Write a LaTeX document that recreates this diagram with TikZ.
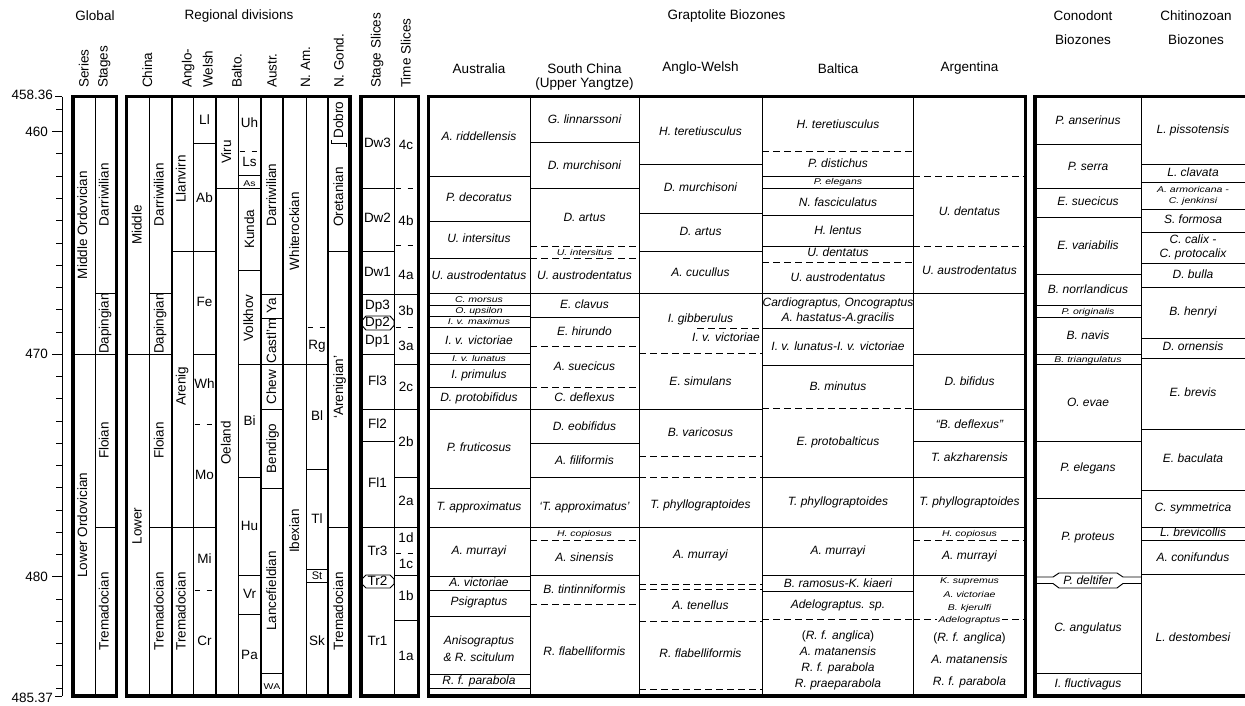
\documentclass[tikz,border=0pt]{standalone}
\usepackage{fontspec}
\setmainfont{Liberation Sans}
\usepackage{graphicx}
\usetikzlibrary{calc}

\tikzset{
  thinline/.style={line width=0.95pt},
  dashline/.style={line width=0.95pt,dash pattern=on 6.5pt off 4.5pt},
  sdash/.style={line width=0.95pt,dash pattern=on 5.5pt off 6.5pt,dash phase=10.5pt},
  grpline/.style={line width=2pt},
  boxline/.style={line width=3.3pt},
  head/.style={font=\fontsize{13.5}{16}\selectfont,inner sep=0pt},
  vhead/.style={head,rotate=90,anchor=west,text height=9.8pt,text depth=2.8pt},
  vname/.style={font=\fontsize{13.5}{16}\selectfont,rotate=90,inner sep=0pt,text height=9.8pt,text depth=2.8pt},
  uname/.style={font=\fontsize{13.5}{16}\selectfont,inner sep=0pt,text height=9.8pt,text depth=2.8pt},
  zone/.style={font=\fontsize{12}{14}\selectfont\itshape,inner sep=0pt,text height=8.6pt,text depth=2.4pt},
}
\newcommand{\smtxt}[1]{\scalebox{1}[0.8]{\fontsize{10.5}{12}\selectfont #1}}

\begin{document}
\begin{tikzpicture}[x=1pt,y=-1pt]
  \useasboundingbox (0,0) rectangle (1245,705);
  \fill[white] (0,0) rectangle (1245,705);

  % 見出し
  \node[head] (hglob) at (95,16) {Global};
  \node[head] (hreg) at (239,16) {Regional divisions};
  \node[head] (hgrap) at (726.5,16) {Graptolite Biozones};
  \node[head] (hcono) at (1083,16) {Conodont};
  \node[head] (hcono2) at (1083,39.5) {Biozones};
  \node[head] (hchit) at (1196,16) {Chitinozoan};
  \node[head] (hchit2) at (1196,39.5) {Biozones};
  \foreach \x/\t [count=\i] in {85/Series,104/Stages,148.5/China,188/Anglo-,209/Welsh,238/Balto.,273/Austr.,306.5/N. Am.,340/N. Gond.,377/Stage Slices,407/Time Slices}
    \node[vhead] (v\i) at (\x,88) {\t};
  \foreach \x/\y/\t [count=\i] in {479/68.5/Australia,584.5/68.5/South China,584.5/84.5/(Upper Yangtze),700.5/68.5/Anglo-Welsh,838/68.5/Baltica,969.5/68.5/Argentina}
    \node[head] (g\i) at (\x,\y) {\t};

  % 時間軸
  \draw[thinline] (62,96.5) -- (62,696);
  \foreach \t in {459,...,485}
    \draw[thinline] (56,{131.7+22.26*(\t-460)}) -- (62,{131.7+22.26*(\t-460)});
  \foreach \t in {460,470,480} {
    \draw[thinline] (52,{131.7+22.26*(\t-460)}) -- (62,{131.7+22.26*(\t-460)});
    \node[head,anchor=east] (t\t) at (48,{131.7+22.26*(\t-460)}) {\t};
  }
  \draw[thinline] (55,96.5) -- (62,96.5);
  \draw[thinline] (55,696) -- (62,696);
  \node[head,anchor=east] (ttop) at (53,95) {458.36};
  \node[head,anchor=east] (tbot) at (53,698) {485.37};

  % 全球区分
  \draw[thinline] (72,354) -- (117,354);
  \foreach \y in {293,527} \draw[thinline] (95,\y) -- (117,\y);
  \node[vname] (se1) at (83.5,225) {Middle Ordovician};
  \node[vname] (se2) at (83.5,525) {Lower Ordovician};
  \foreach \y/\t [count=\i] in {194.5/Darriwilian,323.5/Dapingian,440.5/Floian,611.5/Tremadocian}
    \node[vname] (st\i) at (105,\y) {\t};

  % 中国
  \draw[thinline] (126,354) -- (171,354);
  \foreach \y in {293,527} \draw[thinline] (149,\y) -- (171,\y);
  \node[vname] (cn1) at (138,225) {Middle};
  \node[vname] (cn2) at (138,526) {Lower};
  \foreach \y/\t [count=\i] in {194.5/Darriwilian,323.5/Dapingian,440.5/Floian,611.5/Tremadocian}
    \node[vname] (cs\i) at (160,\y) {\t};

  % 英国
  \foreach \y in {251,527} \draw[thinline] (171,\y) -- (216,\y);
  \foreach \y in {143,354} \draw[thinline] (193,\y) -- (216,\y);
  \foreach \y in {424,590} \draw[sdash] (193,\y) -- (216,\y);
  \foreach \y/\t [count=\i] in {179/Llanvirn,386/Arenig,611.5/Tremadocian}
    \node[vname] (aw\i) at (182,\y) {\t};
  \foreach \y/\t [count=\i] in {121/Ll,199/Ab,303/Fe,385/Wh,476/Mo,560/Mi,642/Cr}
    \node[uname] (aws\i) at (204.5,\y) {\t};

  % バルト
  \draw[thinline] (216,188) -- (261,188);
  \foreach \y in {175,270,364,477,575,614} \draw[thinline] (238,\y) -- (261,\y);
  \draw[sdash] (238,151) -- (261,151);
  \node[vname] (bt1) at (227.5,152) {Viru};
  \node[vname] (bt2) at (227,443) {Oeland};
  \node[vname] (bt3) at (250.5,229) {Kunda};
  \node[vname] (bt4) at (249.5,318) {Volkhov};
  \foreach \y/\t [count=\i] in {124/Uh,163/Ls,422/Bi,527/Hu,595/Vr,656/Pa}
    \node[uname] (bts\i) at (249.5,\y) {\t};
  \node[uname] (bts7) at (249.5,182.5) {\smtxt{As}};

  % 豪州
  \foreach \y in {294,318,364,409,488,673} \draw[thinline] (261,\y) -- (283,\y);
  \foreach \y/\t [count=\i] in {195/Darriwilian,306/Ya,341/Castl'm,387/Chew,448.5/Bendigo,591/Lancefieldian}
    \node[vname] (at\i) at (272.5,\y) {\t};
  \node[uname] (at7) at (272,686) {\smtxt{WA}};

  % 北米
  \draw[thinline] (283,364) -- (328,364);
  \foreach \y in {469,569,582} \draw[thinline] (306,\y) -- (328,\y);
  \draw[sdash] (306,327) -- (328,327);
  \node[vname] (na1) at (295.5,231) {Whiterockian};
  \node[vname] (na2) at (295.5,531) {Ibexian};
  \foreach \y/\t [count=\i] in {346/Rg,417/Bl,520/Tl,642/Sk}
    \node[uname] (nas\i) at (317,\y) {\t};
  \node[uname,font=\fontsize{11}{13}\selectfont] (nas5) at (317,575.5) {St};

  % 北ゴンドワナ
  \foreach \y in {251,527} \draw[thinline] (328,\y) -- (351,\y);
  \draw[thinline] (331,140) -- (331,143) -- (346,143) -- (346,147);
  \foreach \y/\t [count=\i] in {120/Dobro,197/Oretanian,387/‘Arenigian’,611.5/Tremadocian}
    \node[vname] (ng\i) at (339.5,\y) {\t};

  % ステージ・タイムスライス
  \foreach \y in {188,251,354,441} \draw[thinline] (361,\y) -- (394,\y);
  \foreach \y in {294,409,527} \draw[thinline] (361,\y) -- (418,\y);
  \foreach \y in {364,477,575,620} \draw[thinline] (394,\y) -- (418,\y);
  \foreach \y in {188,245,327,553} \draw[sdash] (394,\y) -- (418,\y);
  \foreach \y/\t [count=\i] in {144/Dw3,219/Dw2,273/Dw1,306/Dp3,341/Dp1,382/Fl3,425/Fl2,484/Fl1,552/Tr3,642/Tr1}
    \node[uname] (ss\i) at (377.5,\y) {\t};
  \foreach \y/\t [count=\i] in {146/4c,222/4b,276/4a,312/3b,347/3a,388/2c,443/2b,502/2a,539/1d,565/1c,597/1b,657/1a}
    \node[uname] (ts\i) at (406,\y) {\t};
  \draw[thinline,fill=white] (362,320.5) -- (366,316) -- (390,316) -- (394,320.5) -- (394,325.5) -- (390,330) -- (366,330) -- (362,325.5) -- cycle;
  \node[uname] (dp2) at (377.5,323) {Dp2};
  \draw[thinline,fill=white] (362,579) -- (366,575) -- (390,575) -- (394,579) -- (394,584) -- (390,588) -- (366,588) -- (362,584) -- cycle;
  \node[uname] (tr2) at (377.5,581.5) {Tr2};

  % 筆石帯：オーストラリア
  \foreach \y in {176,221,258,293,305,316,327,353,364,387,409,488,527,576,590,616,674,688}
    \draw[thinline] (428,\y) -- (530,\y);
  \foreach \y/\t [count=\i] in {137/A. riddellensis,198/P. decoratus,239/U. intersitus,276.5/U. austrodentatus,299.5/\smtxt{C. morsus},310.5/\smtxt{O. upsilon},321.5/\smtxt{I. v. maximus},341/I. v. victoriae,358.5/\smtxt{I. v. lunatus},375.5/I. primulus,398/D. protobifidus,448/P. fruticosus,507.5/T. approximatus,551/A. murrayi,583/A. victoriae,602.5/Psigraptus,641/Anisograptus,658/\& R. scitulum,681/R. f. parabola}
    \node[zone] (gau\i) at (479,\y) {\t};

  % 南中国
  \foreach \y in {142,188,293,317,409,443,477,527,575} \draw[thinline] (530,\y) -- (639,\y);
  \foreach \y in {246,258,346,387,540,604} \draw[dashline] (530,\y) -- (639,\y);
  \foreach \y/\t [count=\i] in {120/G. linnarssoni,166/D. murchisoni,218/D. artus,252.5/\smtxt{U. intersitus},276.5/U. austrodentatus,305/E. clavus,332/E. hirundo,367/A. suecicus,398.5/C. deflexus,427/D. eobifidus,461/A. filiformis,507.5/‘T. approximatus’,533/\smtxt{H. copiosus},558/A. sinensis,590/B. tintinniformis,652/R. flabelliformis}
    \node[zone] (gsc\i) at (584.5,\y) {\t};

  % 英国
  \foreach \y in {164,213,251,293,409,527} \draw[thinline] (639,\y) -- (762,\y);
  \foreach \y in {353,456,477,584,589,621,689} \draw[dashline] (639,\y) -- (762,\y);
  \draw[dashline] (697,328) -- (762,328);
  \foreach \y/\t [count=\i] in {132/H. teretiusculus,188.5/D. murchisoni,232/D. artus,273/A. cucullus,319/I. gibberulus,382/E. simulans,433/B. varicosus,505/T. phyllograptoides,555/A. murrayi,606/A. tenellus,654/R. flabelliformis}
    \node[zone] (gaw\i) at (700.5,\y) {\t};
  \node[zone] (gaw12) at (726,338) {I. v. victoriae};

  % バルティカ
  \foreach \y in {176,188,215,246,293,328,365,477,527,575,591} \draw[thinline] (762,\y) -- (913,\y);
  \foreach \y in {151,262,408,619} \draw[dashline] (762,\y) -- (913,\y);
  \foreach \y/\t [count=\i] in {125/H. teretiusculus,164/P. distichus,181/\smtxt{P. elegans},203/N. fasciculatus,231/H. lentus,253.5/U. dentatus,278/U. austrodentatus,303/{Cardiograptus, Oncograptus},318/A. hastatus-A.gracilis,347.5/I. v. lunatus-I. v. victoriae,387/B. minutus,442/E. protobalticus,502/T. phyllograptoides,551/A. murrayi,584/B. ramosus-K. kiaeri,605/Adelograptus. sp.,636/\textup{(}R. f. anglica\textup{)},652/A. matanensis,668/R. f. parabola,684.5/R. praeparabola}
    \node[zone] (gba\i) at (838,\y) {\t};

  % アルゼンチン
  \foreach \y in {293,354,409,441,477,527,575} \draw[thinline] (913,\y) -- (1025,\y);
  \foreach \y in {176,246,540,619} \draw[dashline] (913,\y) -- (1025,\y);
  \foreach \y/\t [count=\i] in {212/U. dentatus,271/U. austrodentatus,382/D. bifidus,425/“B. deflexus”,458.5/T. akzharensis,502/T. phyllograptoides,533/\smtxt{H. copiosus},556/A. murrayi,580/\smtxt{K. supremus},594/\smtxt{A. victoriae},607.5/\smtxt{B. kjerulfi},638.5/\textup{(}R. f. anglica\textup{)},660/A. matanensis,682/R. f. parabola}
    \node[zone] (gar\i) at (969.5,\y) {\t};
  \node[zone,fill=white,inner xsep=2pt] (gar15) at (969.5,619) {\smtxt{Adelograptus}};

  % コノドント帯
  \foreach \y in {144,188,217,274,305,317,354,364,441,498,673} \draw[thinline] (1035,\y) -- (1141,\y);
  \draw[thinline] (1035,577) -- (1053,577) -- (1059,573) -- (1117,573) -- (1123,577) -- (1141,577);
  \draw[thinline] (1035,583.5) -- (1053,583.5) -- (1059,588) -- (1117,588) -- (1123,583.5) -- (1141,583.5);
  \foreach \y/\t [count=\i] in {121/P. anserinus,167/P. serra,202/E. suecicus,246/E. variabilis,290/B. norrlandicus,311/\smtxt{P. originalis},336/B. navis,359/\smtxt{B. triangulatus},403/O. evae,468/P. elegans,537/P. proteus,581/P. deltifer,628/C. angulatus,684.5/I. fluctivagus}
    \node[zone] (gco\i) at (1088,\y) {\t};

  % キチノゾア帯
  \foreach \y in {164,182,209,232,263,287,338,358,429,490,527,540,574} \draw[thinline] (1141,\y) -- (1250,\y);
  \foreach \y/\t [count=\i] in {130/L. pissotensis,173/L. clavata,189.5/\smtxt{A. armoricana -},200/\smtxt{C. jenkinsi},220.5/S. formosa,240.5/C. calix -,254/C. protocalix,275/D. bulla,312/B. henryi,347.5/D. ornensis,393.5/E. brevis,459/E. baculata,508/C. symmetrica,533.5/L. brevicollis,558/A. conifundus,638/L. destombesi}
    \node[zone] (gch\i) at (1193,\y) {\t};

  % 縦線と枠
  \foreach \x in {95,149,193.3,238.3,306,394.3,530,639,762,913,1141} \draw[thinline] (\x,96.5) -- (\x,696);
  \foreach \x in {171.7,216,261,283.3,328.3} \draw[grpline] (\x,96.5) -- (\x,696);
  \draw[boxline] (73,96.5) rectangle (116.5,696);
  \draw[boxline] (126.5,96.5) rectangle (350,696);
  \draw[boxline] (361,96.5) rectangle (418.5,696);
  \draw[boxline] (428.5,96.5) rectangle (1025.5,696);
  \draw[boxline] (1035,96.5) rectangle (1252,696);
\end{tikzpicture}
\end{document}
